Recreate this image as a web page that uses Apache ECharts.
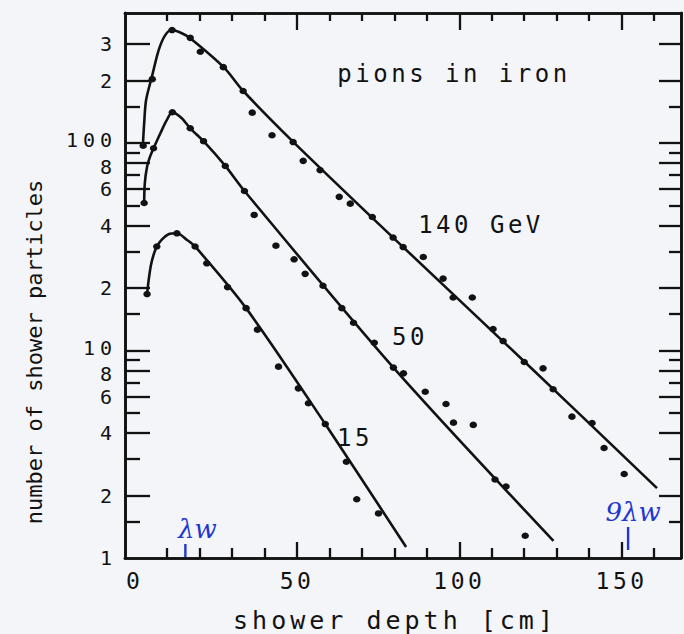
<!DOCTYPE html>
<html>
<head>
<meta charset="utf-8">
<script src="https://cdn.jsdelivr.net/npm/echarts@6/dist/echarts.min.js"></script>
<style>
  html, body { margin: 0; padding: 0; background: #f4f5f8; }
  #chart { width: 684px; height: 634px; }
  /* wide plotter-style lettering */
  #chart svg text { letter-spacing: 3.5px; }
  #chart svg text[style*="20px"] { letter-spacing: 5px; }
  #chart svg text[style*="25px"] { letter-spacing: 4px; }
  #chart svg text[style*="22px"] { letter-spacing: 0; }
  #chart svg text[style*="italic"] { letter-spacing: 0; }
</style>
</head>
<body>
<div id="chart"></div>
<script>
// Pion showers in iron: number of shower particles vs. shower depth (cm)

// 140 GeV measurements
const depth140 = [2.6, 5.4, 11.5, 17.1, 20.2, 27.3, 33.4, 36.2, 42.3, 48.8, 51.9, 57.1, 63.0, 66.4, 73.2, 79.6, 82.7, 88.9, 95.0, 98.1, 104.0, 110.4, 113.5, 120.0, 125.8, 128.9, 134.7, 140.9, 144.6, 150.8];
const count140 = [97, 203, 350, 321, 275, 232, 178, 140, 109, 101, 82, 74, 55, 51, 44, 35, 31.5, 28.2, 22.2, 18, 18, 12.7, 11.1, 8.8, 8.2, 6.5, 4.8, 4.47, 3.39, 2.54];
// 140 GeV fitted profile
const fitDepth140 = [2.5, 2.9, 3.5, 5.3, 7.4, 9.4, 11.4, 14.5, 17.1, 27.4, 33.3, 48.9, 79.6, 120.1, 160.9];
const fitCount140 = [97, 124, 161, 209, 281, 331, 350, 338, 320, 232, 179, 101, 35, 8.83, 2.17];

// 50 GeV measurements
const depth50 = [2.9, 5.8, 11.6, 17.1, 21.2, 27.9, 33.8, 36.8, 43.5, 49.1, 52.5, 58.0, 63.8, 67.4, 73.8, 79.7, 82.8, 89.5, 95.9, 98.2, 104.3, 111.0, 114.4, 120.3];
const count50 = [51.4, 94.3, 140.6, 117.7, 102, 77.5, 58.7, 45, 32, 27.5, 23.4, 20.5, 16, 13.6, 10.9, 8.27, 7.76, 6.33, 5.52, 4.49, 4.38, 2.39, 2.21, 1.28];
// 50 GeV fitted profile
const fitDepth50 = [2.9, 3.1, 3.8, 4.8, 5.8, 7.9, 9.9, 11.6, 14.5, 17.1, 21.2, 27.9, 33.8, 79.7, 129.0];
const fitCount50 = [51.4, 63.9, 76.9, 86.6, 94.3, 111.4, 129.1, 140.6, 131.5, 117.7, 102, 77.5, 58.7, 8.27, 1.21];

// 15 GeV measurements
const depth15 = [3.8, 6.8, 13.0, 18.6, 22.2, 28.6, 34.3, 37.8, 44.3, 50.4, 53.5, 58.7, 65.2, 68.4, 75.1];
const count15 = [18.7, 31.7, 36.7, 31.7, 26.3, 20.2, 16, 12.6, 8.36, 6.57, 5.57, 4.42, 2.91, 1.92, 1.64];
// 15 GeV fitted profile
const fitDepth15 = [3.8, 4.3, 5.0, 5.8, 6.8, 8.4, 10.4, 13.0, 16.1, 18.6, 34.3, 58.7, 83.6];
const fitCount15 = [18.7, 21.9, 25.8, 28.9, 31.7, 34.3, 36.3, 36.7, 34.1, 31.7, 16, 4.42, 1.13];

// interaction-length markers written on the depth axis
const lambdaDepths = [15.6, 152];
const lambdaTexts = ['λw', '9λw'];

// axis ticks and labels
const xLabelValues = [0, 50, 100, 150];
const xMajorTicks = [50, 100, 150];
const xMinorTicks = [10, 20, 30, 40, 60, 70, 80, 90, 110, 120, 130, 140, 160];
const yLabelValues = [1, 2, 4, 6, 20, 40, 60, 200, 300];
const yLabelValuesEight = [8, 80];
const yLabelValuesDecade = [10, 100];
const yMajorTicks = [2, 4, 6, 8, 10, 20, 40, 60, 80, 100, 200, 300];
const yMinorTicks = [1.5, 3, 5, 7, 9, 15, 30, 50, 70, 90, 150];

const INK = '#121212';
const BLUE = '#2336cf';
const FONT = '"DejaVu Sans Mono", monospace';
const X_MIN = -3, X_MAX = 168.3, Y_MIN = 1, Y_MAX = 423;

const zip = (xs, ys) => xs.map((x, i) => [x, ys[i]]);

function xAxisDef(position, ticks, len, labels) {
  return {
    type: 'value', position, min: X_MIN, max: X_MAX,
    axisLine: { show: true, onZero: false, lineStyle: { color: INK, width: 2.6 } },
    axisTick: { show: true, inside: true, length: len, customValues: ticks,
                lineStyle: { color: INK, width: 2.3 } },
    axisLabel: labels
      ? { show: true, customValues: labels, margin: 11, color: INK,
          fontFamily: FONT, fontSize: 23 }
      : { show: false },
    splitLine: { show: false }
  };
}

function yLabel(v) {
  const n = Math.round(v);
  if (n === 10 || n === 100) return String(n);
  return String(n).charAt(0);
}

// crowded labels (8 / 10, 80 / 100) hang just below or sit just above their tick
function yAxisDef(position, ticks, len, labels, align, showLine) {
  const labelPlace = align === 'below' ? { verticalAlign: 'top', lineHeight: 7 }
                   : align === 'above' ? { verticalAlign: 'bottom', lineHeight: 5 }
                   : { lineHeight: 16 };
  return {
    type: 'log', logBase: 10, position, min: Y_MIN, max: Y_MAX,
    axisLine: { show: showLine !== false, onZero: false, lineStyle: { color: INK, width: 2.6 } },
    axisTick: ticks
      ? { show: true, inside: true, length: len, customValues: ticks,
          lineStyle: { color: INK, width: 2.3 } }
      : { show: false },
    axisLabel: labels
      ? Object.assign({ show: true, customValues: labels, margin: 8, color: INK,
          fontFamily: FONT, fontSize: 20, formatter: yLabel }, labelPlace)
      : { show: false },
    splitLine: { show: false }
  };
}

function fitLine(name, xs, ys) {
  return {
    name, type: 'line', data: zip(xs, ys), xAxisIndex: 0, yAxisIndex: 0,
    smooth: 0.3, showSymbol: false, symbol: 'none',
    lineStyle: { color: INK, width: 2.6 }, z: 3, silent: true
  };
}

function points(name, xs, ys) {
  return {
    name, type: 'scatter', data: zip(xs, ys), xAxisIndex: 0, yAxisIndex: 0,
    symbol: 'circle', symbolSize: [7.5, 6.5],
    itemStyle: { color: INK, opacity: 1 }, z: 4, silent: true
  };
}

// per-marker placement of the handwritten notes (pixels relative to the axis point)
const noteLayout = [
  { tickFrom: -1, tickTo: -14, dx: 12, dy: -29 },
  { tickFrom: -8, tickTo: -31, dx: 5, dy: -46 }
];

const chart = echarts.init(document.getElementById('chart'), null, { renderer: 'svg' });

chart.setOption({
  backgroundColor: '#f4f5f8',
  animation: false,
  grid: { left: 125, right: 3, top: 13, bottom: 76, containLabel: false },
  xAxis: [
    xAxisDef('bottom', xMajorTicks, 16, xLabelValues),
    xAxisDef('bottom', xMinorTicks, 10),
    xAxisDef('top', xMajorTicks, 17),
    xAxisDef('top', xMinorTicks, 8)
  ],
  yAxis: [
    yAxisDef('left', yMajorTicks, 25, yLabelValues),
    yAxisDef('left', yMinorTicks, 15, yLabelValuesEight, 'below'),
    yAxisDef('right', yMajorTicks, 22),
    yAxisDef('right', yMinorTicks, 12),
    yAxisDef('left', null, 0, yLabelValuesDecade, 'above', false)
  ],
  series: [
    fitLine('140 GeV fit', fitDepth140, fitCount140),
    fitLine('50 GeV fit', fitDepth50, fitCount50),
    fitLine('15 GeV fit', fitDepth15, fitCount15),
    points('140 GeV', depth140, count140),
    points('50 GeV', depth50, count50),
    points('15 GeV', depth15, count15),
    {
      name: 'interaction lengths', type: 'custom', xAxisIndex: 0, yAxisIndex: 0,
      data: lambdaDepths.map((d, i) => [d, Y_MIN, i]),
      silent: true, z: 5,
      renderItem(params, api) {
        const p = api.coord([api.value(0), api.value(1)]);
        const L = noteLayout[api.value(2)];
        return {
          type: 'group',
          children: [
            { type: 'line',
              shape: { x1: p[0], y1: p[1] + L.tickFrom, x2: p[0], y2: p[1] + L.tickTo },
              style: { stroke: BLUE, lineWidth: 2.4 } },
            { type: 'text',
              style: { x: p[0] + L.dx, y: p[1] + L.dy, text: lambdaTexts[api.value(2)],
                       fill: BLUE, font: 'italic 26px "DejaVu Serif", serif',
                       align: 'center', verticalAlign: 'middle' } }
          ]
        };
      }
    }
  ],
  graphic: [
    { type: 'text', x: 454, y: 74,
      style: { text: 'pions in iron', fill: INK, font: '24px ' + FONT, align: 'center', verticalAlign: 'middle' } },
    { type: 'text', x: 481, y: 225,
      style: { text: '140 GeV', fill: INK, font: '24px ' + FONT, align: 'center', verticalAlign: 'middle' } },
    { type: 'text', x: 410, y: 337,
      style: { text: '50', fill: INK, font: '24px ' + FONT, align: 'center', verticalAlign: 'middle' } },
    { type: 'text', x: 355, y: 438,
      style: { text: '15', fill: INK, font: '24px ' + FONT, align: 'center', verticalAlign: 'middle' } },
    { type: 'text', x: 395, y: 620,
      style: { text: 'shower depth [cm]', fill: INK, font: '25px ' + FONT, align: 'center', verticalAlign: 'middle' } },
    { type: 'text', x: 34, y: 352, rotation: Math.PI / 2,
      style: { text: 'number of shower particles', fill: INK, font: '22px ' + FONT, align: 'center', verticalAlign: 'middle' } }
  ]
});
</script>
</body>
</html>
